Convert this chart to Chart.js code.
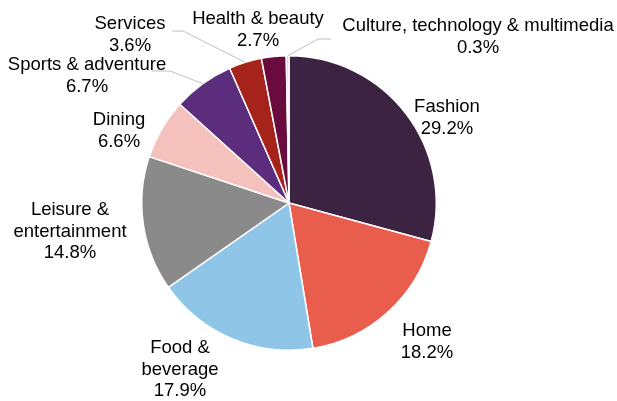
<!DOCTYPE html>
<html lang="en">
  <head>
    <meta charset="UTF-8">
    <title>Retail mix</title>
    <style>
      html, body { margin: 0; padding: 0; background: #fff; }
    </style>
  </head>
  <body>
    <canvas id="myChart" width="617" height="401"></canvas>

    <script src="https://cdn.jsdelivr.net/npm/chart.js"></script>
    <script>
      // data
      const categories = ["Fashion", "Home", "Food & beverage", "Leisure & entertainment", "Dining",
        "Sports & adventure", "Services", "Health & beauty", "Culture, technology & multimedia"];
      const shares = [29.2, 18.2, 17.9, 14.8, 6.6, 6.7, 3.6, 2.7, 0.3];
      const sliceColors = ["#3c2342", "#e85d4b", "#8fc6e8", "#8a8a8a", "#f5c1bd",
        "#5c2c7d", "#a6231c", "#690b3d", "#ead3dd"];

      // label layout: text lines, centre x, first line y, optional leader start
      const labelLines = [["Fashion"], ["Home"], ["Food &", "beverage"], ["Leisure &", "entertainment"], ["Dining"],
        ["Sports & adventure"], ["Services"], ["Health & beauty"], ["Culture, technology & multimedia"]];
      const labelPos = [[447, 107], [427, 331], [180, 348], [70, 210], [119, 120],
        [87, 65], [130, 24], [258, 19], [478, 26]];
      const leaders = { 5: [[152, 71], [170, 71]], 6: [[172, 31], [183, 31]], 8: [[331, 39], [318, 39]] };

      const labelPlugin = {
        id: "sliceLabels",
        afterDatasetsDraw(chart) {
          const c = chart.ctx;
          const arcs = chart.getDatasetMeta(0).data;
          c.save();
          // leader lines
          c.strokeStyle = "#bfbfbf";
          c.lineWidth = 1;
          Object.keys(leaders).forEach(function (k) {
            const a = arcs[k];
            const mid = (a.startAngle + a.endAngle) / 2;
            const pts = leaders[k];
            c.beginPath();
            c.moveTo(pts[0][0], pts[0][1]);
            for (let i = 1; i < pts.length; i++) c.lineTo(pts[i][0], pts[i][1]);
            c.lineTo(a.x + Math.cos(mid) * a.outerRadius, a.y + Math.sin(mid) * a.outerRadius);
            c.stroke();
          });
          // texts
          c.fillStyle = "#000";
          c.font = "18.5px 'Liberation Sans', Arial, sans-serif";
          c.textAlign = "center";
          c.textBaseline = "middle";
          labelLines.forEach(function (lines, i) {
            const all = lines.concat([shares[i].toFixed(1) + "%"]);
            all.forEach(function (t, j) {
              c.fillText(t, labelPos[i][0], labelPos[i][1] + j * 21.5);
            });
          });
          c.restore();
        }
      };

      const ctx = document.getElementById("myChart");
      const chart = new Chart(ctx, {
        type: "pie",
        data: {
          labels: categories,
          datasets: [{
            data: shares,
            backgroundColor: sliceColors,
            borderColor: "#ffffff",
            borderWidth: 1.5
          }]
        },
        options: {
          responsive: false,
          animation: false,
          layout: { padding: { left: 141, right: 180, top: 55, bottom: 50 } },
          plugins: { legend: { display: false }, tooltip: { enabled: false } }
        },
        plugins: [labelPlugin]
      });
    </script>
  </body>
</html>
